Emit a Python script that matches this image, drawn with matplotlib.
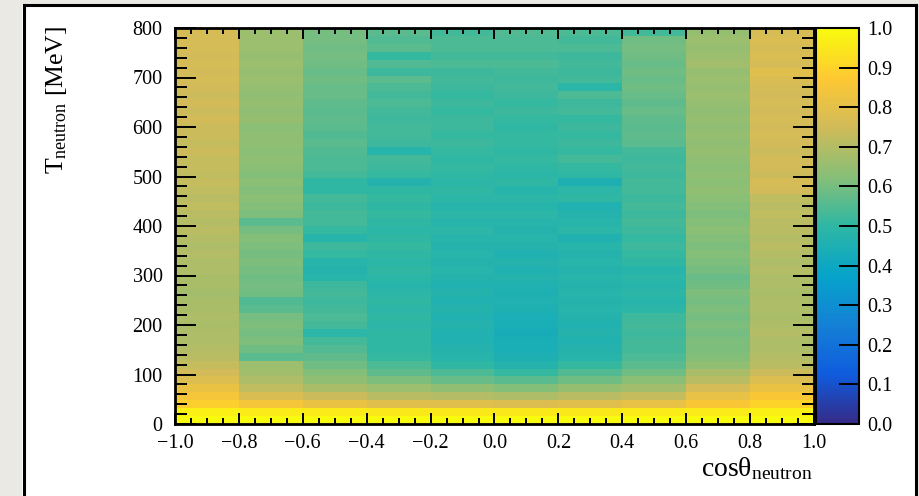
import numpy as np
import matplotlib.pyplot as plt
from matplotlib.colors import LinearSegmentedColormap
from matplotlib.patches import Rectangle
from matplotlib.lines import Line2D

# Bin edges of the histogram
cos_edges = [-1.0, -0.8, -0.6, -0.4, -0.2, 0.0, 0.2, 0.4, 0.6, 0.8, 1.0]
t_edges = np.arange(0, 801, 16)

# Tick labels
cos_ticks = [-1.0, -0.8, -0.6, -0.4, -0.2, 0.0, 0.2, 0.4, 0.6, 0.8, 1.0]
cos_tick_labels = ["\u22121.0", "\u22120.8", "\u22120.6", "\u22120.4", "\u22120.2",
                   "0.0", "0.2", "0.4", "0.6", "0.8", "1.0"]
z_ticks = [0.0, 0.1, 0.2, 0.3, 0.4, 0.5, 0.6, 0.7, 0.8, 0.9, 1.0]
z_tick_labels = ["0.0", "0.1", "0.2", "0.3", "0.4", "0.5", "0.6", "0.7", "0.8", "0.9", "1.0"]

# Values per cos(theta) column, listed from T = 0 MeV (bottom) to 800 MeV (top)
col_m10 = [1.00, 0.97, 0.89, 0.85, 0.82, 0.78, 0.75, 0.73, 0.71, 0.70,
           0.69, 0.69, 0.68, 0.69, 0.68, 0.68, 0.67, 0.68, 0.68, 0.69,
           0.69, 0.70, 0.69, 0.70, 0.71, 0.70, 0.71, 0.72, 0.71, 0.72,
           0.73, 0.72, 0.73, 0.73, 0.74, 0.73, 0.74, 0.74, 0.75, 0.74,
           0.75, 0.74, 0.75, 0.76, 0.75, 0.76, 0.75, 0.76, 0.76, 0.76]
col_m08 = [1.00, 0.96, 0.85, 0.77, 0.72, 0.69, 0.67, 0.66, 0.56, 0.59,
           0.61, 0.60, 0.61, 0.60, 0.56, 0.55, 0.59, 0.60, 0.59, 0.60,
           0.61, 0.60, 0.61, 0.62, 0.60, 0.56, 0.61, 0.62, 0.63, 0.62,
           0.63, 0.62, 0.63, 0.64, 0.63, 0.64, 0.64, 0.63, 0.65, 0.64,
           0.65, 0.64, 0.65, 0.66, 0.65, 0.66, 0.65, 0.66, 0.66, 0.66]
col_m06 = [1.00, 0.96, 0.82, 0.74, 0.68, 0.64, 0.62, 0.59, 0.57, 0.55,
           0.53, 0.49, 0.53, 0.54, 0.53, 0.52, 0.53, 0.52, 0.48, 0.47,
           0.48, 0.51, 0.52, 0.48, 0.51, 0.53, 0.53, 0.52, 0.53, 0.50,
           0.50, 0.53, 0.54, 0.54, 0.55, 0.56, 0.55, 0.56, 0.57, 0.56,
           0.57, 0.58, 0.58, 0.59, 0.58, 0.59, 0.60, 0.59, 0.60, 0.60]
col_m04 = [1.00, 0.95, 0.79, 0.71, 0.66, 0.61, 0.57, 0.54, 0.51, 0.50,
           0.50, 0.50, 0.49, 0.50, 0.49, 0.50, 0.49, 0.48, 0.49, 0.50,
           0.49, 0.50, 0.51, 0.50, 0.49, 0.50, 0.51, 0.50, 0.51, 0.50,
           0.47, 0.51, 0.52, 0.53, 0.48, 0.52, 0.53, 0.53, 0.52, 0.53,
           0.54, 0.53, 0.54, 0.56, 0.52, 0.55, 0.51, 0.56, 0.55, 0.56]
col_m02 = [1.00, 0.95, 0.79, 0.70, 0.64, 0.58, 0.54, 0.50, 0.48, 0.47,
           0.46, 0.46, 0.47, 0.46, 0.47, 0.46, 0.47, 0.46, 0.47, 0.48,
           0.47, 0.48, 0.47, 0.48, 0.49, 0.48, 0.49, 0.48, 0.49, 0.50,
           0.49, 0.50, 0.51, 0.50, 0.51, 0.52, 0.51, 0.52, 0.52, 0.51,
           0.52, 0.51, 0.52, 0.53, 0.52, 0.54, 0.53, 0.54, 0.54, 0.53]
col_p00 = [1.00, 0.95, 0.78, 0.69, 0.62, 0.56, 0.51, 0.47, 0.45, 0.44,
           0.44, 0.43, 0.44, 0.44, 0.45, 0.46, 0.45, 0.46, 0.47, 0.46,
           0.47, 0.46, 0.47, 0.48, 0.47, 0.48, 0.49, 0.48, 0.49, 0.48,
           0.50, 0.49, 0.50, 0.51, 0.50, 0.51, 0.51, 0.50, 0.51, 0.52,
           0.51, 0.52, 0.53, 0.52, 0.53, 0.54, 0.53, 0.54, 0.54, 0.55]
col_p02 = [1.00, 0.95, 0.79, 0.71, 0.65, 0.59, 0.55, 0.51, 0.48, 0.47,
           0.46, 0.47, 0.46, 0.47, 0.48, 0.47, 0.48, 0.47, 0.48, 0.47,
           0.48, 0.47, 0.48, 0.46, 0.49, 0.48, 0.47, 0.46, 0.50, 0.49,
           0.45, 0.50, 0.51, 0.53, 0.51, 0.52, 0.51, 0.52, 0.51, 0.53,
           0.52, 0.54, 0.49, 0.53, 0.52, 0.53, 0.52, 0.54, 0.53, 0.54]
col_p04 = [1.00, 0.96, 0.81, 0.73, 0.67, 0.63, 0.59, 0.56, 0.54, 0.53,
           0.53, 0.52, 0.53, 0.52, 0.49, 0.48, 0.49, 0.48, 0.49, 0.48,
           0.50, 0.51, 0.52, 0.51, 0.52, 0.53, 0.52, 0.53, 0.52, 0.53,
           0.53, 0.52, 0.53, 0.52, 0.53, 0.56, 0.57, 0.56, 0.57, 0.58,
           0.57, 0.58, 0.59, 0.58, 0.59, 0.58, 0.59, 0.60, 0.59, 0.53]
col_p06 = [1.00, 0.96, 0.86, 0.81, 0.76, 0.71, 0.68, 0.64, 0.62, 0.61,
           0.61, 0.60, 0.61, 0.60, 0.61, 0.60, 0.61, 0.59, 0.58, 0.60,
           0.61, 0.62, 0.61, 0.62, 0.63, 0.62, 0.61, 0.62, 0.63, 0.64,
           0.63, 0.64, 0.63, 0.64, 0.65, 0.64, 0.65, 0.64, 0.65, 0.64,
           0.65, 0.66, 0.65, 0.66, 0.65, 0.67, 0.66, 0.65, 0.66, 0.65]
col_p08 = [1.00, 0.97, 0.90, 0.86, 0.82, 0.78, 0.74, 0.71, 0.70, 0.69,
           0.69, 0.70, 0.69, 0.68, 0.69, 0.69, 0.68, 0.69, 0.69, 0.70,
           0.69, 0.70, 0.71, 0.70, 0.71, 0.71, 0.72, 0.71, 0.72, 0.75,
           0.76, 0.74, 0.75, 0.75, 0.74, 0.75, 0.76, 0.75, 0.76, 0.75,
           0.76, 0.75, 0.76, 0.77, 0.79, 0.76, 0.77, 0.76, 0.77, 0.76]

columns = [col_m10, col_m08, col_m06, col_m04, col_m02,
           col_p00, col_p02, col_p04, col_p06, col_p08]
z = np.array(columns).T  # shape (n_T, n_cos)

# ROOT kBird palette
bird_stops = [0.0, 0.125, 0.25, 0.375, 0.5, 0.625, 0.75, 0.875, 1.0]
bird_r = [0.2082, 0.0592, 0.0780, 0.0232, 0.1802, 0.5301, 0.8186, 0.9956, 0.9764]
bird_g = [0.1664, 0.3599, 0.5041, 0.6419, 0.7178, 0.7492, 0.7328, 0.7862, 0.9832]
bird_b = [0.5293, 0.8684, 0.8385, 0.7914, 0.6425, 0.4662, 0.3499, 0.1968, 0.0539]
kbird = LinearSegmentedColormap.from_list(
    "kbird", list(zip(bird_stops, zip(bird_r, bird_g, bird_b))), N=256)

plt.rcParams['font.family'] = ['Liberation Serif', 'DejaVu Serif']
plt.rcParams['mathtext.fontset'] = 'custom'
plt.rcParams['mathtext.rm'] = 'Liberation Serif'
plt.rcParams['mathtext.it'] = 'Liberation Serif:italic'

W, H = 920, 496
fig = plt.figure(figsize=(W / 100, H / 100), dpi=100)
fig.patch.set_facecolor('white')

# outer slide frame
gray = '#ebe9e4'
fig.patches.append(Rectangle((0, 0), 22 / W, 1, transform=fig.transFigure,
                             facecolor=gray, edgecolor='none', zorder=0))
fig.patches.append(Rectangle((0, 1 - 3.5 / H), 1, 3.5 / H, transform=fig.transFigure,
                             facecolor=gray, edgecolor='none', zorder=0))
fig.patches.append(Rectangle((918 / W, 0), 2 / W, 1, transform=fig.transFigure,
                             facecolor=gray, edgecolor='none', zorder=0))
fig.lines.append(Line2D([23.5 / W, 23.5 / W], [0, 1 - 4.5 / H], transform=fig.transFigure,
                        color='black', lw=2.2))
fig.lines.append(Line2D([23.5 / W, 916.5 / W], [1 - 4.5 / H, 1 - 4.5 / H],
                        transform=fig.transFigure, color='black', lw=2.2))
fig.lines.append(Line2D([916.5 / W, 916.5 / W], [0, 1 - 4.5 / H], transform=fig.transFigure,
                        color='black', lw=2.2))

x0, x1 = 175 / W, 814 / W
y0, y1 = 1 - 424 / H, 1 - 28 / H
ax = fig.add_axes([x0, y0, x1 - x0, y1 - y0])
mesh = ax.pcolormesh(cos_edges, t_edges, z, cmap=kbird, vmin=0.0, vmax=1.0,
                     shading='flat', edgecolors='none')
ax.set_xlim(-1.0, 1.0)
ax.set_ylim(0, 800)

ax.set_xticks(cos_ticks)
ax.set_xticklabels(cos_tick_labels)
ax.set_xticks(np.arange(-1.0, 1.01, 0.05), minor=True)
ax.set_yticks(np.arange(0, 801, 100))
ax.set_yticks(np.arange(0, 801, 20), minor=True)

ax.tick_params(axis='both', which='both', direction='in', top=True, right=True,
               colors='black', width=1.4, labelsize=14.5)
ax.tick_params(axis='x', which='major', length=8, pad=7)
ax.tick_params(axis='x', which='minor', length=4)
ax.tick_params(axis='y', which='major', length=15, pad=9)
ax.tick_params(axis='y', which='minor', length=8.5)
for s in ax.spines.values():
    s.set_linewidth(2.0)

# colorbar
cax = fig.add_axes([816 / W, y0, 43 / W, y1 - y0])
cb = fig.colorbar(mesh, cax=cax)
cb.set_ticks(z_ticks)
cb.ax.set_yticklabels(z_tick_labels)
cb.ax.tick_params(direction='in', length=14.5, width=1.4, labelsize=14.5, pad=6)
cb.ax.minorticks_off()
cb.outline.set_linewidth(1.5)

# axis titles
fig.text(813 / W, 1 - 455 / H, 'cos\u03b8$_{\\mathrm{neutron}}$', ha='right', va='top',
         fontsize=20)
fig.text(57 / W, 1 - 26 / H, 'T$_{\\mathrm{neutron}}$ [MeV]', rotation=90,
         ha='center', va='top', fontsize=18.5)

fig.savefig('out.png', dpi=100)
